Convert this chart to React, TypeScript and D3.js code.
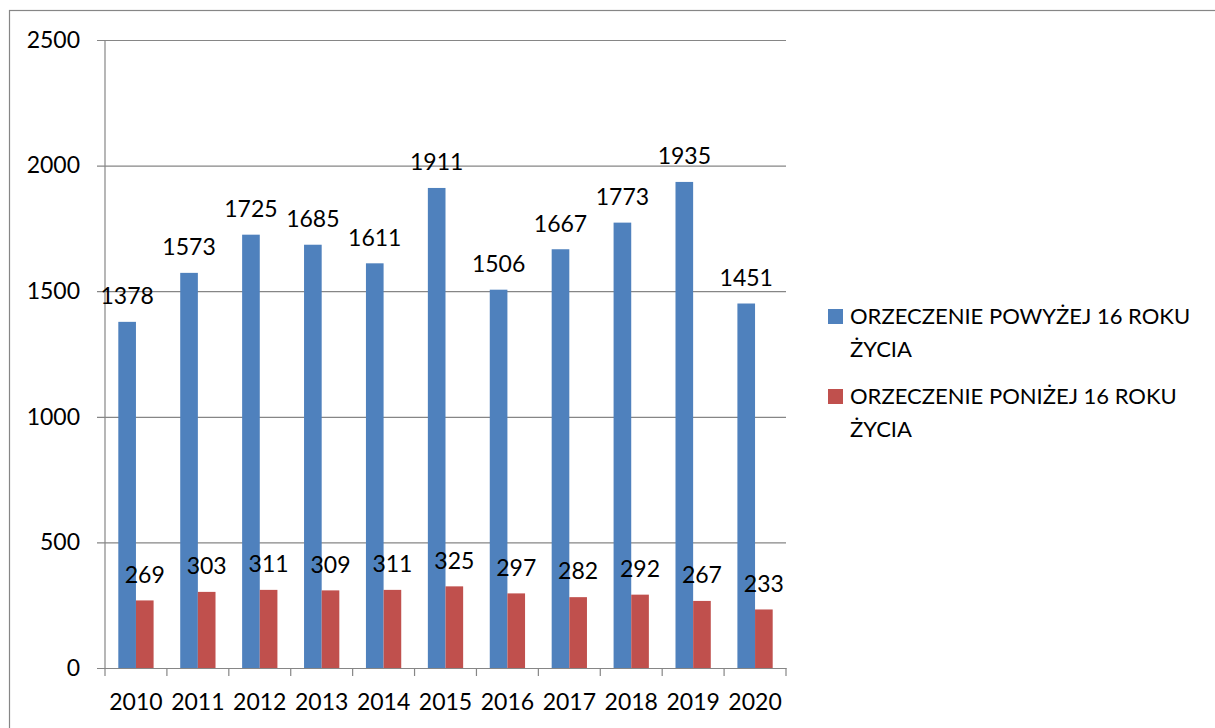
import React, { useEffect, useRef } from 'react';
import * as d3 from 'd3';

const years = ['2010', '2011', '2012', '2013', '2014', '2015', '2016', '2017', '2018', '2019', '2020'];
const above16 = [1378, 1573, 1725, 1685, 1611, 1911, 1506, 1667, 1773, 1935, 1451];
const below16 = [269, 303, 311, 309, 311, 325, 297, 282, 292, 267, 233];
const seriesNames = ['ORZECZENIE POWYŻEJ 16 ROKU ŻYCIA', 'ORZECZENIE PONIŻEJ 16 ROKU ŻYCIA'];
const seriesColors = ['#4F81BD', '#C0504D'];
const yTicks = [0, 500, 1000, 1500, 2000, 2500];

const W = 1215, H = 728;
const FONT = 'Lato, "Open Sans", sans-serif';

export default function App() {
  const ref = useRef<SVGSVGElement>(null);

  useEffect(() => {
    const svg = d3.select(ref.current);
    svg.selectAll('*').remove();

    const margins = { left: 105, right: 1215 - 786, top: 40, bottom: 728 - 668 };

    // chart frame
    svg.append('rect')
      .attr('x', 9.5).attr('y', 10.5)
      .attr('width', W).attr('height', H)
      .attr('fill', 'white').attr('stroke', '#868686').attr('stroke-width', 1.2);

    const x0 = d3.scaleBand().domain(years).range([margins.left, W - margins.right]).paddingInner(0).paddingOuter(0);
    const gap = 0.43;
    const x1 = d3.scaleBand().domain(['a', 'b'])
      .range([x0.bandwidth() * gap / 2, x0.bandwidth() * (1 - gap / 2)]);
    const y = d3.scaleLinear().domain([0, 2500]).range([H - margins.bottom, margins.top]);

    // gridlines + y axis
    const yAxis = d3.axisLeft(y).tickValues(yTicks).tickFormat(d3.format('d'))
      .tickSize(-(W - margins.right - margins.left)).tickSizeOuter(0).tickPadding(25);
    const gy = svg.append('g').attr('transform', `translate(${margins.left},0)`).call(yAxis);
    gy.select('.domain').remove();
    gy.selectAll('.tick line').attr('stroke', '#868686').attr('stroke-width', 1.2).attr('x1', -8);
    gy.selectAll('.tick text').attr('font-family', FONT).attr('font-size', 23).attr('fill', '#000');
    svg.append('line')
      .attr('x1', margins.left).attr('x2', margins.left)
      .attr('y1', margins.top).attr('y2', H - margins.bottom)
      .attr('stroke', '#868686').attr('stroke-width', 1.2);

    // bars
    const groups = svg.append('g').selectAll('g').data(years).enter().append('g')
      .attr('transform', d => `translate(${x0(d)},0)`);
    groups.each(function (yr, i) {
      const g = d3.select(this);
      const vals = [above16[i], below16[i]];
      g.selectAll('rect').data(vals).enter().append('rect')
        .attr('x', (_, j) => x1(j === 0 ? 'a' : 'b')!)
        .attr('width', x1.bandwidth())
        .attr('y', d => y(d))
        .attr('height', d => y(0) - y(d))
        .attr('fill', (_, j) => seriesColors[j]);
      g.selectAll('text').data(vals).enter().append('text')
        .attr('x', (_, j) => x1(j === 0 ? 'a' : 'b')! + x1.bandwidth() / 2)
        .attr('y', d => y(d) - 26)
        .attr('dy', '0.36em')
        .attr('text-anchor', 'middle')
        .attr('font-family', FONT).attr('font-size', 23).attr('fill', '#000')
        .text(d => d);
    });

    // x axis
    const xAxis = d3.axisBottom(x0).tickSize(0).tickPadding(26);
    const gx = svg.append('g').attr('transform', `translate(0,${H - margins.bottom})`).call(xAxis);
    gx.select('.domain').attr('stroke', '#868686').attr('stroke-width', 1.2);
    gx.selectAll('.tick text').attr('font-family', FONT).attr('font-size', 23).attr('fill', '#000');
    const edges = years.map(d => x0(d)!).concat([W - margins.right]);
    gx.selectAll('.edge').data(edges).enter().append('line')
      .attr('x1', d => d).attr('x2', d => d).attr('y1', 0).attr('y2', 8)
      .attr('stroke', '#868686').attr('stroke-width', 1.2);

    // legend
    const leg = svg.append('g').attr('transform', 'translate(828,309)');
    seriesNames.forEach((name, i) => {
      const gi = leg.append('g').attr('transform', `translate(0,${i * 80})`);
      gi.append('rect').attr('width', 15).attr('height', 15).attr('fill', seriesColors[i]);
      const words = name.split(' ');
      const t = gi.append('text').attr('font-family', FONT).attr('font-size', 22).attr('fill', '#000');
      t.append('tspan').attr('x', 22).attr('y', 15).text(words.slice(0, -1).join(' '));
      t.append('tspan').attr('x', 22).attr('y', 48).text(words[words.length - 1]);
    });
  }, []);

  return (
    <svg ref={ref} width={W} height={H}
      style={{ position: 'absolute', left: 0, top: 0, background: 'white' }} />
  );
}
